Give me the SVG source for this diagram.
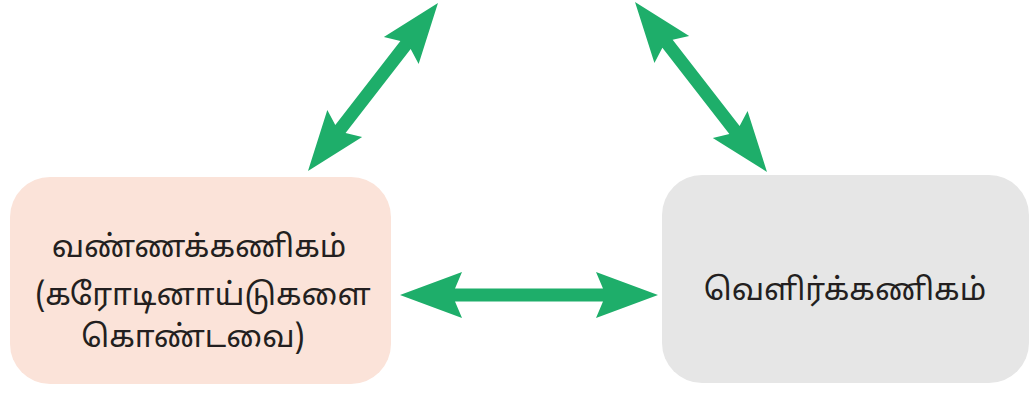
<svg xmlns="http://www.w3.org/2000/svg" width="1029" height="394" viewBox="0 0 1029 394">
<style>
.arrow{fill:#1eae6a;stroke:none}
.lbl{font-family:"Noto Sans Tamil","Lohit Tamil","Noto Serif Tamil","Latha",sans-serif;font-size:31px;fill:#231f20;text-anchor:middle}
</style>
<rect width="1029" height="394" fill="#ffffff"/>
<g id="connectors">
<path class="arrow" transform="translate(400,295)" d="M0,0 L62,-23 L55,-6.5 L203,-6.5 L196,-23 L258,0 L196,23 L203,6.5 L55,6.5 L62,23 Z"/>
<path class="arrow" transform="translate(308,171) rotate(-52.27)" d="M0,0 L60,-22 L53,-6.5 L159.4,-6.5 L152.4,-22 L212.4,0 L152.4,22 L159.4,6.5 L53,6.5 L60,22 Z"/>
<path class="arrow" transform="translate(635,2) rotate(52.17)" d="M0,0 L60,-22 L53,-6.5 L162.2,-6.5 L155.2,-22 L215.2,0 L155.2,22 L162.2,6.5 L53,6.5 L60,22 Z"/>
</g>
<g id="node-left">
<rect x="10" y="177" width="381" height="207" rx="40" ry="40" fill="#fbe3d9"/>
<text class="lbl" x="199" y="257">வண்ணக்கணிகம்</text>
<text class="lbl" x="203" y="305">(கரோடினாய்டுகளை</text>
<text class="lbl" x="193" y="347">கொண்டவை)</text>
</g>
<g id="node-right">
<rect x="662" y="175" width="367" height="208" rx="40" ry="40" fill="#e6e6e6"/>
<text class="lbl" x="845" y="300">வெளிர்க்கணிகம்</text>
</g>
</svg>
